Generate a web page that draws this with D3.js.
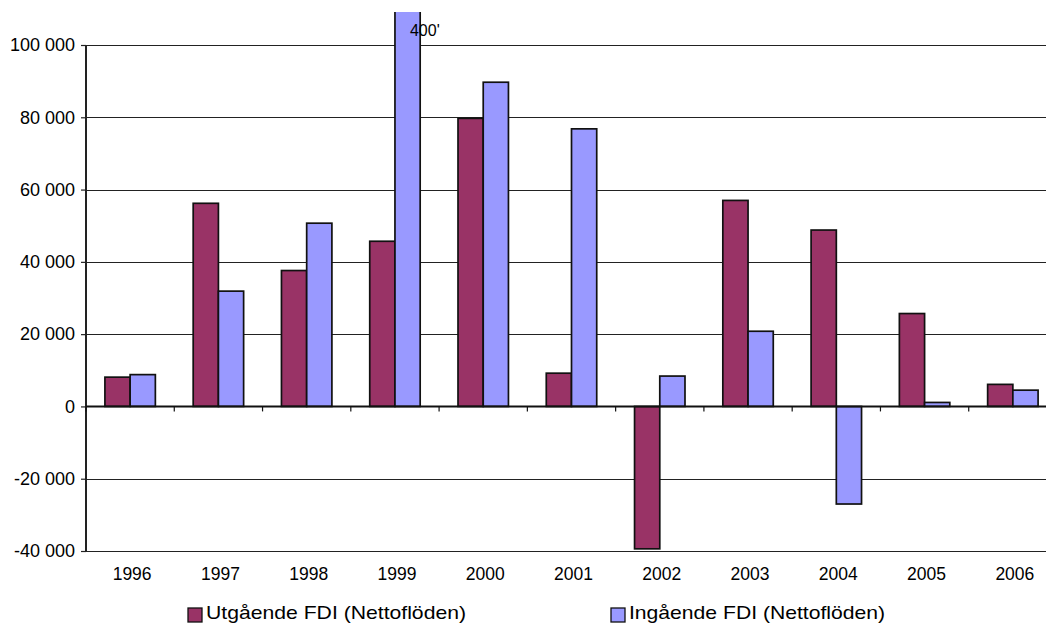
<!DOCTYPE html>
<html>
<head>
<meta charset="utf-8">
<script src="https://cdn.jsdelivr.net/npm/d3@7"></script>
<style>
  html, body { margin: 0; padding: 0; background: #fff; }
  svg { display: block; font-family: Arial, "Liberation Sans", sans-serif; }
</style>
</head>
<body>
<svg id="chart" width="1046" height="624"></svg>
<script>
// Swedish FDI net flows, 1996–2006
const years = ["1996", "1997", "1998", "1999", "2000", "2001", "2002", "2003", "2004", "2005", "2006"];
const seriesNames = ["Utgående FDI (Nettoflöden)", "Ingående FDI (Nettoflöden)"];
const utgaende = [8100, 56200, 37600, 45700, 79700, 9200, -39400, 57000, 48800, 25700, 6100];
const ingaende = [8800, 31900, 50700, 400000, 89700, 76800, 8400, 20800, -27000, 1100, 4500];
const seriesColors = ["#993366", "#9999FF"];
const yTicks = [-40000, -20000, 0, 20000, 40000, 60000, 80000, 100000];
// the off-scale 1999 inflow is annotated in thousands
const overflowLabel = { year: "1999", series: 1, text: "400'" };

const svg = d3.select("#chart");
const plot = { left: 86, right: 1057, top: 12, bottom: 551 };

const x0 = d3.scaleBand().domain(years).range([plot.left, plot.right]).paddingInner(0).paddingOuter(0);
const x1 = d3.scaleBand().domain([0, 1]).range([0, x0.bandwidth()]).paddingInner(0).paddingOuter(0.75);
const y = d3.scaleLinear().domain([-40000, 100000]).range([plot.bottom, 45]);

const locale = d3.formatLocale({ decimal: ",", thousands: " ", grouping: [3], currency: ["", " kr"], minus: "-" });
const fmt = locale.format(",d");

svg.append("defs").append("clipPath").attr("id", "plotClip")
  .append("rect")
  .attr("x", plot.left).attr("y", plot.top)
  .attr("width", plot.right - plot.left).attr("height", plot.bottom - plot.top + 2);

// horizontal gridlines
svg.append("g").selectAll("line").data(yTicks).join("line")
  .attr("x1", plot.left).attr("x2", plot.right)
  .attr("y1", d => Math.round(y(d)) + 0.5).attr("y2", d => Math.round(y(d)) + 0.5)
  .attr("stroke", "#222").attr("stroke-width", 1.2);

// y axis
const yAxis = d3.axisLeft(y).tickValues(yTicks).tickFormat(fmt).tickSize(5).tickPadding(6);
const gy = svg.append("g").attr("transform", `translate(${plot.left},0)`).call(yAxis);
gy.select(".domain").attr("stroke", "#222").attr("stroke-width", 2)
  .attr("d", `M0,${y(100000)}V${y(-40000)}`);
gy.selectAll(".tick line").attr("stroke", "#222").attr("stroke-width", 1.2);
gy.selectAll(".tick text").attr("font-size", 18).attr("fill", "#000")
  .attr("font-family", "Arial, 'Liberation Sans', sans-serif");

// bars
const data = [utgaende, ingaende];
const groups = svg.append("g").attr("clip-path", "url(#plotClip)")
  .selectAll("g").data(years).join("g")
  .attr("transform", d => `translate(${x0(d)},0)`);
groups.selectAll("rect")
  .data((yr, i) => data.map((s, k) => ({ k, v: s[i] })))
  .join("rect")
  .attr("x", d => x1(d.k))
  .attr("width", x1.bandwidth())
  .attr("y", d => y(Math.max(0, d.v)))
  .attr("height", d => Math.abs(y(d.v) - y(0)))
  .attr("fill", d => seriesColors[d.k])
  .attr("stroke", "#111").attr("stroke-width", 1.7);

// x axis on the zero line, ticks at category boundaries
const xAxisLine = svg.append("g");
xAxisLine.append("line")
  .attr("x1", plot.left).attr("x2", plot.right)
  .attr("y1", y(0)).attr("y2", y(0))
  .attr("stroke", "#111").attr("stroke-width", 2);
xAxisLine.selectAll("line.tick").data(years.concat(["end"])).join("line")
  .attr("class", "tick")
  .attr("x1", (d, i) => plot.left + i * x0.step()).attr("x2", (d, i) => plot.left + i * x0.step())
  .attr("y1", y(0)).attr("y2", y(0) + 5)
  .attr("stroke", "#111").attr("stroke-width", 1.2);

// category labels below the plot
svg.append("g").selectAll("text").data(years).join("text")
  .attr("x", d => x0(d) + x0.bandwidth() / 2 + 2)
  .attr("y", 580)
  .attr("text-anchor", "middle")
  .attr("font-size", 17.5)
  .text(d => d);

// annotation for the off-scale bar
svg.append("text")
  .attr("x", x0(overflowLabel.year) + x1(overflowLabel.series) + 15)
  .attr("y", 36)
  .attr("font-size", 16)
  .text(overflowLabel.text);

// legend
const legendX = [188, 611];
const legend = svg.append("g").selectAll("g").data(seriesNames).join("g")
  .attr("transform", (d, i) => `translate(${legendX[i]},0)`);
legend.append("rect")
  .attr("x", 0).attr("y", 608).attr("width", 14).attr("height", 14)
  .attr("fill", (d, i) => seriesColors[i])
  .attr("stroke", "#111").attr("stroke-width", 1.3);
legend.append("text")
  .attr("x", 18).attr("y", 619)
  .attr("font-size", 19)
  .attr("textLength", (d, i) => i === 0 ? 260 : 256)
  .attr("lengthAdjust", "spacingAndGlyphs")
  .text(d => d);
</script>
</body>
</html>
